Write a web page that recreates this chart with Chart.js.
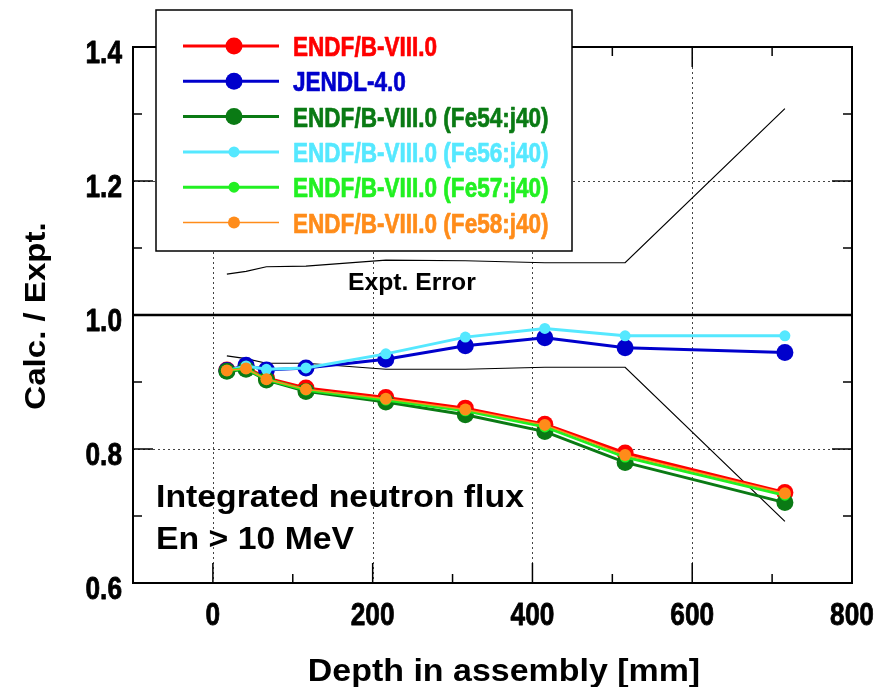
<!DOCTYPE html>
<html><head><meta charset="utf-8">
<script src="https://cdn.jsdelivr.net/npm/chart.js@4.4.1/dist/chart.umd.min.js"></script>
<style>html,body{margin:0;padding:0;background:#fff}canvas{display:block}</style>
</head><body>
<canvas id="c" width="875" height="687"></canvas>
<script>
// ---- data ----
const depth = [17.5, 41.5, 67, 116.5, 216.5, 316, 415.5, 516, 716];
const endf8   = [0.918, 0.922, 0.906, 0.891, 0.877, 0.861, 0.837, 0.794, 0.735];
const jendl4  = [0.917, 0.925, 0.918, 0.921, 0.934, 0.954, 0.966, 0.951, 0.944];
const fe54j40 = [0.916, 0.919, 0.903, 0.886, 0.870, 0.851, 0.826, 0.780, 0.720];
const fe56j40 = [0.917, 0.924, 0.919, 0.921, 0.942, 0.967, 0.980, 0.969, 0.969];
const fe57j40 = [0.917, 0.920, 0.904, 0.888, 0.873, 0.857, 0.833, 0.788, 0.731];
const fe58j40 = [0.917, 0.920, 0.904, 0.889, 0.875, 0.859, 0.836, 0.791, 0.734];
const errUpper = [1.061, 1.065, 1.072, 1.073, 1.082, 1.081, 1.078, 1.078, 1.308];
const errLower = [0.939, 0.935, 0.928, 0.928, 0.919, 0.919, 0.922, 0.922, 0.692];
const xTicks = [0, 200, 400, 600, 800];
const xMinor = [100, 300, 500, 700];
const yTicks = [0.6, 0.8, 1.0, 1.2, 1.4];
const yMinor = [0.7, 0.9, 1.1, 1.3];
const refLine = 1.0;

const SANS = "'Liberation Sans',Arial,Helvetica,sans-serif";

function pts(ys) { return depth.map((x, i) => ({ x: x, y: ys[i] })); }
function series(label, color, ys, r, w, order) {
  return { label, data: pts(ys), borderColor: color, backgroundColor: color,
    pointBackgroundColor: color, pointBorderColor: color, pointBorderWidth: 0,
    pointRadius: r, pointHoverRadius: r, borderWidth: w, showLine: true, order: order, inLegend: true };
}
function errLine(ys) {
  return { label: 'err', data: pts(ys), borderColor: '#000', borderWidth: 1.2, pointRadius: 0,
    showLine: true, order: 10, inLegend: false };
}

const datasets = [
  series('ENDF/B-VIII.0', '#ff0000', endf8, 8.5, 3, 6),
  series('JENDL-4.0', '#0000cc', jendl4, 8.5, 3, 5),
  series('ENDF/B-VIII.0 (Fe54:j40)', '#0a7a14', fe54j40, 8.5, 3, 4),
  series('ENDF/B-VIII.0 (Fe56:j40)', '#55e8ff', fe56j40, 5.5, 3, 3),
  series('ENDF/B-VIII.0 (Fe57:j40)', '#22f022', fe57j40, 5.5, 3, 2),
  series('ENDF/B-VIII.0 (Fe58:j40)', '#ff8c1a', fe58j40, 6, 1.5, 1),
  errLine(errUpper),
  errLine(errLower)
];

function seg(ctx, x1, y1, x2, y2) { ctx.beginPath(); ctx.moveTo(x1, y1); ctx.lineTo(x2, y2); ctx.stroke(); }
// text drawn with a horizontal stretch factor (sx) to mimic the reference face
function stext(ctx, s, x, y, sx, align, sw) {
  ctx.save(); ctx.translate(x, y); ctx.scale(sx, 1); ctx.textAlign = align || 'left';
  ctx.fillText(s, 0, 0);
  if (sw) { ctx.strokeStyle = ctx.fillStyle; ctx.lineWidth = sw; ctx.lineJoin = 'round'; ctx.strokeText(s, 0, 0); }
  ctx.restore();
}

const decor = {
  id: 'decor',
  beforeDatasetsDraw(chart) {
    const { ctx, chartArea: a, scales: { x, y } } = chart;
    ctx.save();
    ctx.strokeStyle = '#444'; ctx.lineWidth = 1; ctx.setLineDash([2, 3]);
    xTicks.forEach(v => {
      if (v <= x.min || v >= x.max) return;
      const px = Math.round(x.getPixelForValue(v)) + 0.5;
      seg(ctx, px, a.top, px, a.bottom);
    });
    yTicks.forEach(v => {
      if (v <= y.min || v >= y.max || v === refLine) return;
      const py = Math.round(y.getPixelForValue(v)) + 0.5;
      seg(ctx, a.left, py, a.right, py);
    });
    ctx.setLineDash([]);
    ctx.strokeStyle = '#000'; ctx.lineWidth = 2.5;
    const ry = y.getPixelForValue(refLine);
    seg(ctx, a.left, ry, a.right, ry);
    ctx.restore();
  },
  afterDatasetsDraw(chart) {
    const { ctx, chartArea: a, scales: { x, y } } = chart;
    ctx.save();
    // frame
    ctx.strokeStyle = '#000'; ctx.lineWidth = 2;
    ctx.strokeRect(a.left, a.top, a.right - a.left, a.bottom - a.top);
    // inward ticks
    ctx.lineWidth = 1.5;
    const MAJ = 20, MIN = 9;
    xTicks.forEach(v => {
      if (v <= x.min || v >= x.max) return;
      const px = x.getPixelForValue(v);
      seg(ctx, px, a.bottom, px, a.bottom - MAJ); seg(ctx, px, a.top, px, a.top + MAJ);
    });
    xMinor.forEach(v => {
      const px = x.getPixelForValue(v);
      seg(ctx, px, a.bottom, px, a.bottom - MIN); seg(ctx, px, a.top, px, a.top + MIN);
    });
    yTicks.forEach(v => {
      if (v <= y.min || v >= y.max) return;
      const py = y.getPixelForValue(v);
      seg(ctx, a.left, py, a.left + MAJ, py); seg(ctx, a.right, py, a.right - MAJ, py);
    });
    yMinor.forEach(v => {
      const py = y.getPixelForValue(v);
      seg(ctx, a.left, py, a.left + MIN, py); seg(ctx, a.right, py, a.right - MIN, py);
    });
    // tick labels (narrow bold)
    ctx.fillStyle = '#000'; ctx.textBaseline = 'alphabetic';
    ctx.font = "bold 32px " + SANS;
    xTicks.forEach(v => { stext(ctx, String(v), x.getPixelForValue(v), a.bottom + 42, 0.82, 'center', 0.8); });
    yTicks.forEach(v => { stext(ctx, v.toFixed(1), a.left - 11, y.getPixelForValue(v) + 16, 0.82, 'right', 0.8); });
    // texts
    ctx.font = "bold 24px " + SANS;
    stext(ctx, 'Expt. Error', 348, 290, 1.03, 'left');
    ctx.font = "bold 31px " + SANS;
    stext(ctx, 'Integrated neutron flux', 156, 507, 1.09, 'left');
    stext(ctx, 'En > 10 MeV', 156, 549, 1.09, 'left');
    // axis titles
    ctx.font = "bold 31px " + SANS;
    stext(ctx, 'Depth in assembly [mm]', 504, 681, 1.095, 'center');
    ctx.save();
    ctx.translate(45, 316); ctx.rotate(-Math.PI / 2);
    ctx.font = "bold 29px " + SANS;
    stext(ctx, 'Calc. / Expt.', 0, 0, 1.14, 'center');
    ctx.restore();
    // legend
    const L = { left: 156, top: 10, right: 572, bottom: 251, x1: 183, x2: 279, xm: 234, xt: 293, y0: 46, dy: 35.3 };
    ctx.fillStyle = '#fff';
    ctx.fillRect(L.left, L.top, L.right - L.left, L.bottom - L.top);
    ctx.strokeStyle = '#000'; ctx.lineWidth = 1.5;
    ctx.strokeRect(L.left, L.top, L.right - L.left, L.bottom - L.top);
    ctx.font = "bold 27.5px " + SANS;
    chart.data.datasets.filter(d => d.inLegend).forEach((d, i) => {
      const yy = L.y0 + i * L.dy;
      ctx.strokeStyle = d.borderColor; ctx.lineWidth = d.borderWidth;
      seg(ctx, L.x1, yy, L.x2, yy);
      ctx.fillStyle = d.borderColor;
      ctx.beginPath(); ctx.arc(L.xm, yy, d.pointRadius, 0, Math.PI * 2); ctx.fill();
      stext(ctx, d.label, L.xt, yy + 10, 0.82, 'left', 0.7);
    });
    ctx.restore();
  }
};

new Chart(document.getElementById('c'), {
  type: 'scatter',
  data: { datasets: datasets },
  options: {
    responsive: false, animation: false,
    layout: { padding: { top: 47, right: 23, left: 0, bottom: 0 } },
    plugins: { legend: { display: false }, tooltip: { enabled: false } },
    scales: {
      x: { type: 'linear', min: -100, max: 800,
        grid: { display: false, drawTicks: false }, border: { display: false },
        afterBuildTicks: s => { s.ticks = xTicks.map(v => ({ value: v })); },
        afterFit: s => { s.height = 104; },
        ticks: { display: false } },
      y: { type: 'linear', min: 0.6, max: 1.4,
        grid: { display: false, drawTicks: false }, border: { display: false },
        afterBuildTicks: s => { s.ticks = yTicks.map(v => ({ value: v })); },
        afterFit: s => { s.width = 133; },
        ticks: { display: false } }
    }
  },
  plugins: [decor]
});
</script>
</body></html>
